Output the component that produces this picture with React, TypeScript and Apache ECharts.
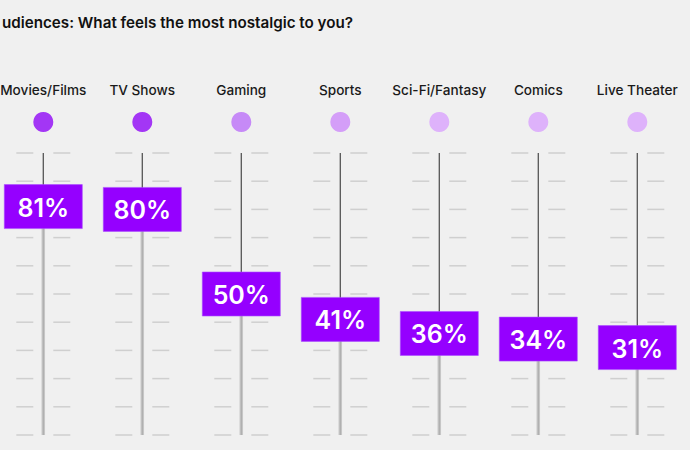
import React, { useEffect, useRef } from "react";
import * as echarts from "echarts";

const titleText = "udiences: What feels the most nostalgic to you?";
const categories = [
  "Movies/Films",
  "TV Shows",
  "Gaming",
  "Sports",
  "Sci-Fi/Fantasy",
  "Comics",
  "Live Theater",
];
const values = [81, 80, 50, 41, 36, 34, 31];
const knobColors = [
  "#a336f5",
  "#a336f5",
  "#c68af7",
  "#d49ef8",
  "#deb2fb",
  "#deb2fb",
  "#deb2fb",
];
const tickValues = [0, 10, 20, 30, 40, 50, 60, 70, 80, 90, 100];

const FONT = "Inter, 'Noto Sans', sans-serif";

export default function App() {
  const ref = useRef<HTMLDivElement>(null);

  useEffect(() => {
    if (!ref.current) return;
    const chart = echarts.init(ref.current, undefined, { renderer: "svg" });

    const renderItem = (params: any, api: any) => {
      const idx = api.value(0);
      const v = api.value(1);
      const [x, yv] = api.coord([idx, v]);
      const top = api.coord([idx, 100])[1];
      const bottom = api.coord([idx, 0])[1];
      const children: any[] = [];

      // scale dashes on both sides of the fader track
      tickValues.forEach((t) => {
        const ty = api.coord([idx, t])[1];
        children.push({
          type: "line",
          shape: { x1: x - 27, y1: ty, x2: x - 10, y2: ty },
          style: { stroke: "#cfcfcf", lineWidth: 1.5 },
        });
        children.push({
          type: "line",
          shape: { x1: x + 10, y1: ty, x2: x + 27, y2: ty },
          style: { stroke: "#cfcfcf", lineWidth: 1.5 },
        });
      });

      // track above the knob: thin dark line
      children.push({
        type: "line",
        shape: { x1: x, y1: top, x2: x, y2: yv },
        style: { stroke: "#555555", lineWidth: 1.3 },
      });
      // track below the knob: wider light groove
      children.push({
        type: "line",
        shape: { x1: x, y1: yv, x2: x, y2: bottom },
        style: { stroke: "#c6c6c6", lineWidth: 3.5 },
      });
      children.push({
        type: "line",
        shape: { x1: x, y1: yv, x2: x, y2: bottom },
        style: { stroke: "#aaaaaa", lineWidth: 1 },
      });

      // knob with the value
      children.push({
        type: "rect",
        shape: { x: x - 39, y: yv - 22, width: 78, height: 44 },
        style: { fill: "#9500ff", stroke: "#a84dff", lineWidth: 0.6 },
      });
      children.push({
        type: "text",
        x: x,
        y: yv + 1,
        style: {
          text: v + "%",
          fill: "#ffffff",
          font: `600 25px ${FONT}`,
          textAlign: "center",
          textVerticalAlign: "middle",
        },
      });

      // indicator dot and category name above the track
      children.push({
        type: "circle",
        shape: { cx: x, cy: top - 31, r: 10 },
        style: { fill: knobColors[idx] },
      });
      children.push({
        type: "text",
        x: x,
        y: top - 63,
        style: {
          text: categories[idx],
          fill: "#1a1a1a",
          font: `500 13.6px ${FONT}`,
          textAlign: "center",
          textVerticalAlign: "middle",
        },
      });

      return { type: "group", children };
    };

    chart.setOption({
      animation: false,
      backgroundColor: "#f0f0f0",
      title: {
        text: titleText,
        left: -3,
        top: 10,
        textStyle: {
          fontFamily: FONT,
          fontSize: 15.2,
          fontWeight: 600,
          color: "#111111",
        },
      },
      grid: { left: 43.3, right: 52.7, top: 153, bottom: 15 },
      xAxis: {
        type: "category",
        data: categories,
        boundaryGap: false,
        show: false,
      },
      yAxis: {
        type: "value",
        min: 0,
        max: 100,
        interval: 10,
        show: false,
      },
      series: [
        {
          type: "custom",
          renderItem,
          data: values.map((v, i) => [i, v]),
          clip: false,
        },
      ],
    });

    return () => chart.dispose();
  }, []);

  return (
    <div
      ref={ref}
      style={{ position: "absolute", left: 0, top: 0, width: 690, height: 450 }}
    />
  );
}
